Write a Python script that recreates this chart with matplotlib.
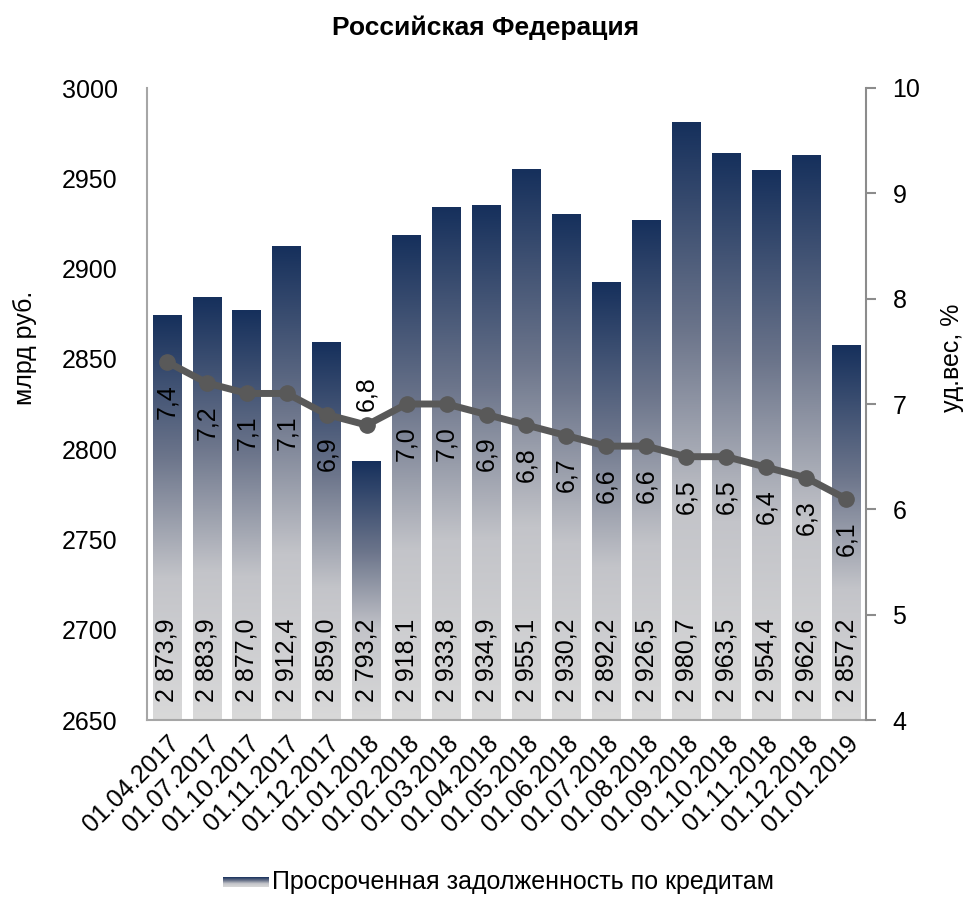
import numpy as np
import matplotlib
matplotlib.use('Agg')
import matplotlib.pyplot as plt
from matplotlib.colors import LinearSegmentedColormap

plt.rcParams['font.family'] = ['Liberation Sans Narrow', 'Liberation Sans', 'DejaVu Sans']

dates = ['01.04.2017', '01.07.2017', '01.10.2017', '01.11.2017', '01.12.2017',
         '01.01.2018', '01.02.2018', '01.03.2018', '01.04.2018', '01.05.2018',
         '01.06.2018', '01.07.2018', '01.08.2018', '01.09.2018', '01.10.2018',
         '01.11.2018', '01.12.2018', '01.01.2019']
overdue = [2873.9, 2883.9, 2877.0, 2912.4, 2859.0, 2793.2, 2918.1, 2933.8, 2934.9,
           2955.1, 2930.2, 2892.2, 2926.5, 2980.7, 2963.5, 2954.4, 2962.6, 2857.2]
share = [7.4, 7.2, 7.1, 7.1, 6.9, 6.8, 7.0, 7.0, 6.9, 6.8, 6.7, 6.6, 6.6, 6.5,
         6.5, 6.4, 6.3, 6.1]
above = [False] * 18
above[5] = True

FS = 18
grad = LinearSegmentedColormap.from_list(
    'bar', [(0, '#d9d9d9'), (0.35, '#c3c4c9'), (0.65, '#6c758b'), (1, '#16305c')])
g = np.linspace(0, 1, 256).reshape(-1, 1)

fig = plt.figure(figsize=(9.72, 8.98), dpi=100)
ax = fig.add_axes([147 / 972, 178 / 898, 719 / 972, 632 / 898])
x = np.arange(len(dates))
ymin, ymax = 2650, 3000

bars = ax.bar(x, [v - ymin for v in overdue], bottom=ymin, width=0.72,
              facecolor='none', edgecolor='none', zorder=2)
for b in bars:
    x0, y0 = b.get_x(), b.get_y()
    ax.imshow(g, extent=[x0, x0 + b.get_width(), y0, y0 + b.get_height()],
              origin='lower', aspect='auto', cmap=grad, zorder=1)

for xi, v in zip(x, overdue):
    s = f'{v:,.1f}'.replace(',', ' ').replace('.', ',')
    ax.text(xi, ymin + 10, s, rotation=90, ha='center', va='bottom',
            fontsize=FS, zorder=4)

ax.set_xlim(-0.5, len(dates) - 0.5)
ax.set_ylim(ymin, ymax)
ax.set_yticks(np.arange(2650, 3001, 50))
ax.set_xticks(x)
ax.set_xticklabels(dates, rotation=45, ha='right', rotation_mode='anchor')
ax.tick_params(axis='y', length=0, labelsize=FS, pad=21)
ax.tick_params(axis='x', length=0, labelsize=FS, pad=8)
for sp in ['top', 'right']:
    ax.spines[sp].set_visible(False)
for sp in ['left', 'bottom']:
    ax.spines[sp].set_color('#a6a6a6')
    ax.spines[sp].set_linewidth(1.5)

ax2 = ax.twinx()
ax2.plot(x, share, color='#595959', lw=5, marker='o', ms=11, zorder=5)
for xi, v, up in zip(x, share, above):
    s = f'{v:.1f}'.replace('.', ',')
    ax2.annotate(s, (xi, v), xytext=(0, 10 if up else -16), textcoords='offset points',
                 rotation=90, ha='center', va='bottom' if up else 'top', fontsize=FS)
ax2.set_ylim(4, 10)
ax2.set_yticks(range(4, 11))
ax2.tick_params(axis='y', length=7, width=1.5, color='#8c8c8c', labelsize=FS, pad=12)
for sp in ['top', 'left', 'bottom']:
    ax2.spines[sp].set_visible(False)
ax2.spines['right'].set_color('#8c8c8c')
ax2.spines['right'].set_linewidth(1.5)

fig.text(25 / 972, 1 - 348 / 898, 'млрд руб.', rotation=90, ha='center', va='center',
         fontsize=FS)
fig.text(952 / 972, 1 - 358 / 898, 'уд.вес, %', rotation=90, ha='center', va='center',
         fontsize=FS)
fig.text(0.5, 0.969, 'Российская Федерация', ha='center', va='center',
         fontsize=19, fontweight='bold')

# legend with gradient swatch
lax = fig.add_axes([223 / 972, 11 / 898, 45 / 972, 10 / 898])
lax.imshow(g, extent=[0, 1, 0, 1], origin='lower', aspect='auto', cmap=grad)
lax.set_axis_off()
fig.text(272 / 972, 16 / 898, 'Просроченная задолженность по кредитам',
         ha='left', va='center', fontsize=FS)

fig.savefig('out.png', dpi=100)
